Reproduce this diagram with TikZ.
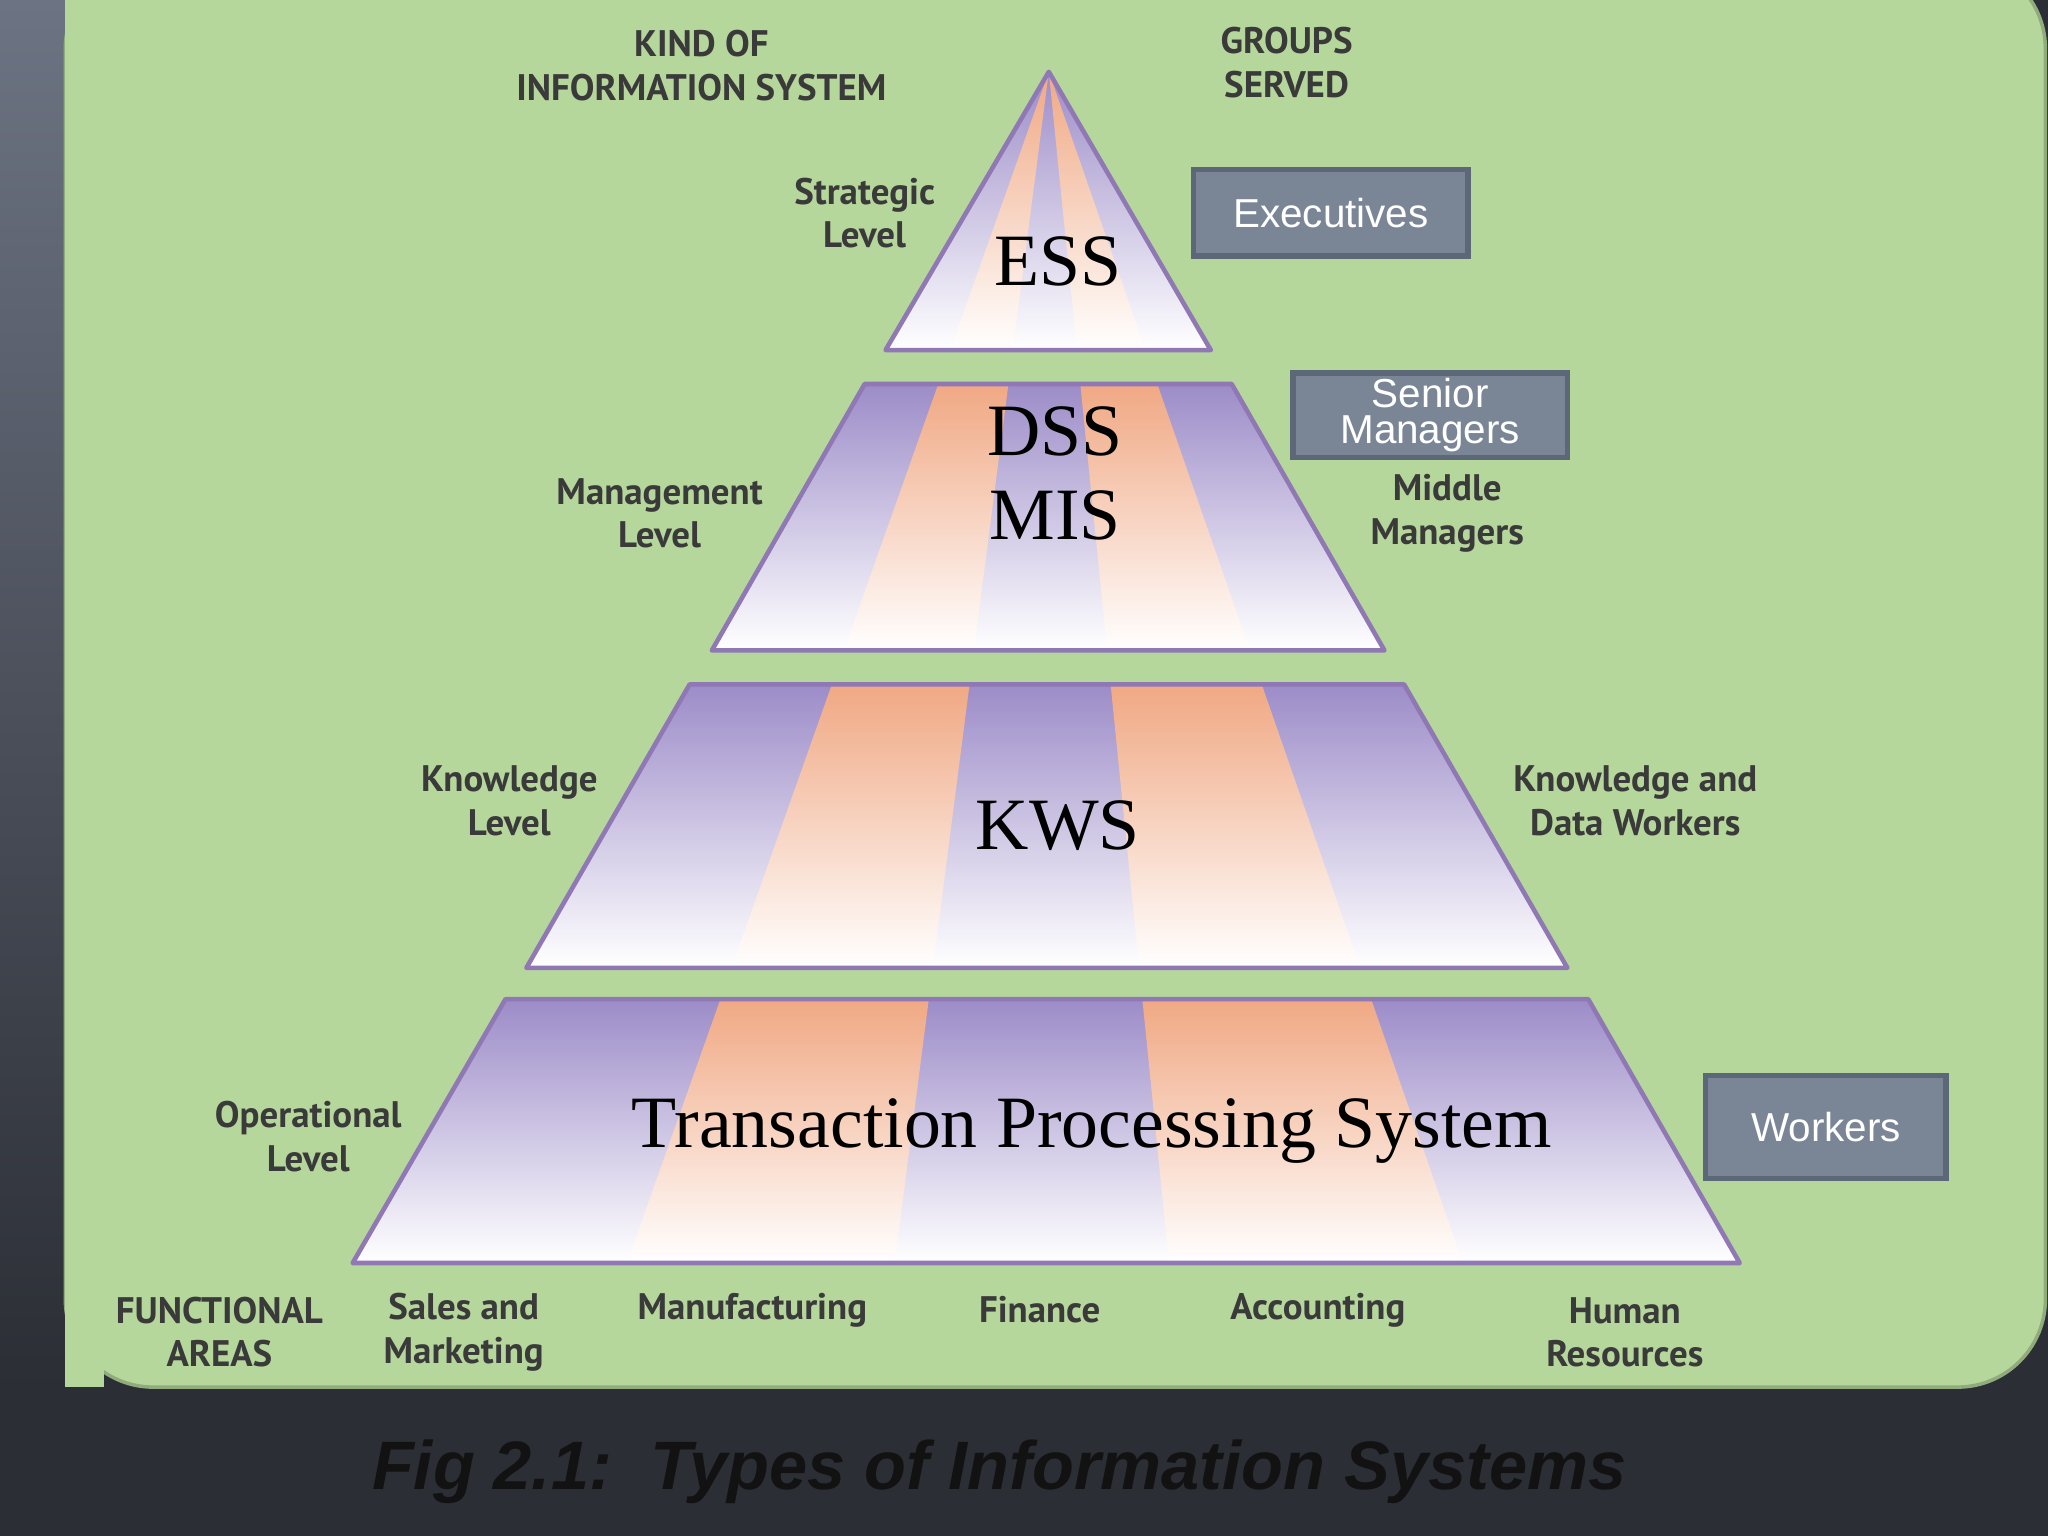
\documentclass[tikz,border=0pt]{standalone}
\usepackage{fontspec}
\setmainfont{Liberation Serif}
\newfontfamily\lab{PT Sans}
\newfontfamily\arial{Liberation Sans}
\usetikzlibrary{calc}
\definecolor{bgg}{HTML}{B5D79B}
\definecolor{pur}{HTML}{9C8CC8}
\definecolor{orn}{HTML}{F0A883}
\definecolor{edge}{HTML}{9078B4}
\definecolor{boxg}{HTML}{7A8696}
\definecolor{boxb}{HTML}{5C6878}
\definecolor{txt}{HTML}{3A3A3A}
\definecolor{dark}{HTML}{2B2E35}
\definecolor{stripT}{HTML}{6C7382}
\definecolor{capc}{HTML}{121212}
\tikzset{
  lbl/.style={font=\lab\bfseries\fontsize{10.5}{12.4}\selectfont, text=txt, align=center},
  hdr/.style={font=\lab\bfseries\fontsize{10.5}{12.4}\selectfont, text=txt, align=center},
  grp/.style={draw=boxb, line width=1.5pt, fill=boxg, text=white, font=\arial\fontsize{11.5}{12.5}\selectfont, align=center, inner sep=0pt},
  big/.style={font=\fontsize{21}{24}\selectfont, align=center, text=black},
}
% layer: #1 top y, #2 bottom y, #3 trapezoid path
\newcommand{\mylayer}[3]{%
  \begin{scope}
    \clip #3;
    \shade[top color=pur, middle color=pur!55!white, bottom color=white] (0,#1) rectangle (1568,#2);
    \foreach \a/\b in {480/685, 895/1120}{
      \begin{scope}
        \clip (803,55) -- ($(803,55)!1.2!(\a,967)$) -- ($(803,55)!1.2!(\b,967)$) -- cycle;
        \shade[top color=orn, middle color=orn!55!white, bottom color=white] (0,#1) rectangle (1568,#2);
      \end{scope}}
  \end{scope}
  \draw[edge, line width=1.3pt, line join=round] #3;
}
\begin{document}
\begin{tikzpicture}[x=0.01306cm, y=-0.01306cm]
\useasboundingbox (0,0) rectangle (1568,1176);
\fill[dark] (0,0) rectangle (1568,1176);
\shade[top color=stripT, bottom color=dark] (0,0) rectangle (50,1062);
\filldraw[fill=bgg, draw=bgg!80!black, line width=1pt, rounded corners=25] (50,-30) rectangle (1566,1062);
\fill[bgg] (50,-30) rectangle (80,1062);

\mylayer{55}{268}{(803,55) -- (927,268) -- (678,268) -- cycle}
\mylayer{294}{498}{(662,294) -- (943,294) -- (1060,498) -- (545,498) -- cycle}
\mylayer{524}{741}{(528,524) -- (1075,524) -- (1200,741) -- (403,741) -- cycle}
\mylayer{765}{967}{(387,765) -- (1216,765) -- (1332,967) -- (270,967) -- cycle}

\node[big] (ess) at (810,200) {ESS};
\node[big] (dss) at (808,330) {DSS};
\node[big] (mis) at (808,395) {MIS};
\node[big] (kws) at (810,632) {KWS};
\node[big] (tps) at (836,866) {Transaction Processing System};

\node[hdr] (kind) at (537,50) {KIND OF\\INFORMATION SYSTEM};
\node[hdr] (groups) at (985,48) {GROUPS\\SERVED};
\node[lbl] (strat) at (662,163) {Strategic\\Level};
\node[lbl] (mgmt) at (505,393) {Management\\Level};
\node[lbl] (know) at (390,613) {Knowledge\\Level};
\node[lbl] (oper) at (236,870) {Operational\\Level};
\node[lbl] (mid) at (1108,393) {Middle\\Managers};
\node[lbl] (kdw) at (1252,613) {Knowledge and\\Data Workers};

\node[grp, minimum width=210*0.01306cm, minimum height=66*0.01306cm] (exe) at (1019,163) {Executives};
\node[grp, minimum width=210*0.01306cm, minimum height=65*0.01306cm, font=\arial\fontsize{11.5}{10.2}\selectfont] (sen) at (1095,318) {Senior\\Managers};
\node[grp, minimum width=184*0.01306cm, minimum height=79*0.01306cm] (wrk) at (1398,863) {Workers};

\node[hdr] (func) at (168,1020) {FUNCTIONAL\\AREAS};
\node[lbl] (sales) at (355,1020) {Sales and\\Marketing};
\node[lbl] (manu) at (576,1003) {Manufacturing};
\node[lbl] (fin) at (796,1003) {Finance};
\node[lbl] (acc) at (1009,1003) {Accounting};
\node[lbl] (hr) at (1244,1020) {Human\\Resources};

\node[font=\arial\bfseries\itshape\fontsize{19.5}{22}\selectfont, text=capc] (cap) at (765,1127) {Fig 2.1:\ \ Types of Information Systems};
\end{tikzpicture}
\end{document}
